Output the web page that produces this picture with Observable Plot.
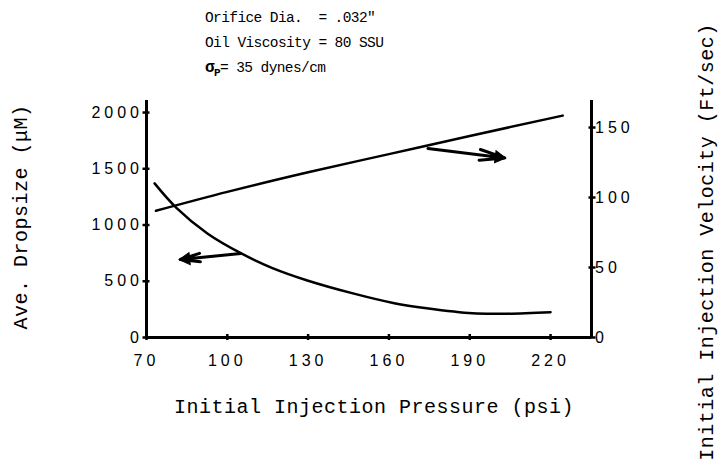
<!DOCTYPE html>
<html>
<head>
<meta charset="utf-8">
<script src="https://cdn.jsdelivr.net/npm/d3@7"></script>
<script src="https://cdn.jsdelivr.net/npm/@observablehq/plot@0.6"></script>
<style>
  html, body { margin: 0; padding: 0; background: #fff; }
  #wrap { position: relative; width: 719px; height: 473px; overflow: hidden; }
  #title { position: absolute; left: 205px; top: 6px; font-family: "Liberation Mono", monospace; font-size: 14.5px; letter-spacing: -0.6px; line-height: 25px; white-space: pre; color: #000; }
  #title b { font-size: 16px; }
  #title b sub { font-size: 11px; }
</style>
</head>
<body>
<div id="wrap">
  <div id="title">Orifice Dia.  = .032"
Oil Viscosity = 80 SSU
<b>σ<sub>P</sub></b>= 35 dynes/cm</div>
</div>
<script>
// ---- data ----
const pressureTicks = [70, 100, 130, 160, 190, 220];
const dropTicks = [0, 500, 1000, 1500, 2000];
const velTicks = [0, 50, 100, 150];

// Ave. dropsize (µM) vs pressure (psi) — left axis
const dropPressure = [73, 81, 92.6, 105, 117, 130, 147, 162, 174, 191, 204, 220];
const dropSize     = [1370, 1155, 925, 750, 615, 505, 390, 305, 260, 215, 212, 225];

// Initial injection velocity (ft/sec) vs pressure (psi) — right axis
const velPressure = [73.5, 100, 130, 160, 190, 224.5];
const velocity    = [90.5, 104, 118, 131, 144, 158.5];

// annotation arrows [fromPressure, fromValue, toPressure, toValue]
const velArrow  = [174.5, 135, 203, 128.3];   // in velocity units
const dropArrow = [105, 747, 82.5, 693];       // in dropsize units

const labelLeft = "Ave. Dropsize (\u03bcM)";
const labelRight = "Initial Injection Velocity (Ft/sec)";
const labelBottom = "Initial Injection Pressure (psi)";

// ---- scales ----
const X_MAX = 235.2, DROP_MAX = 2107, VEL_MAX = 169.3;
const v2d = d3.scaleLinear([0, VEL_MAX], [0, DROP_MAX]);

const dropData = dropPressure.map((p, i) => ({p, v: dropSize[i]}));
const velData = velPressure.map((p, i) => ({p, v: v2d(velocity[i])}));
const arrows = [
  {x1: velArrow[0], y1: v2d(velArrow[1]), x2: velArrow[2], y2: v2d(velArrow[3])},
  {x1: dropArrow[0], y1: dropArrow[1], x2: dropArrow[2], y2: dropArrow[3]}
];

const mono = "Liberation Mono, monospace";
const tickFont = "Liberation Sans, sans-serif";

const chart = Plot.plot({
  width: 719, height: 473,
  marginLeft: 146, marginRight: 128, marginTop: 100, marginBottom: 136,
  x: {domain: [70, X_MAX]},
  y: {domain: [0, DROP_MAX]},
  style: {background: "white", color: "black", fontFamily: tickFont, overflow: "visible"},
  marks: [
    Plot.ruleX([70], {stroke: "black", strokeWidth: 3}),
    Plot.ruleX([X_MAX], {stroke: "black", strokeWidth: 3}),
    Plot.ruleY([0], {stroke: "black", strokeWidth: 3}),
    Plot.axisY(dropTicks, {anchor: "left", tickSize: 7, dx: 3.5, tickPadding: 0, fontSize: 16, strokeWidth: 2.5, tickFormat: d => String(d), label: null}),
    Plot.axisY(velTicks.map(v2d), {anchor: "right", tickSize: 7, dx: -3.5, tickPadding: 0, fontSize: 16, strokeWidth: 2.5, tickFormat: d => String(Math.round(v2d.invert(d))), label: null}),
    Plot.axisX(pressureTicks, {tickSize: 6, dy: -3, tickPadding: 14, fontSize: 16, strokeWidth: 2.5, tickFormat: d => String(d), label: null}),
    Plot.line(dropData, {x: "p", y: "v", curve: "catmull-rom", stroke: "black", strokeWidth: 2.5}),
    Plot.line(velData, {x: "p", y: "v", curve: "monotone-x", stroke: "black", strokeWidth: 2.5}),
    Plot.arrow(arrows, {x1: "x1", y1: "y1", x2: "x2", y2: "y2", headLength: 16, headAngle: 24, stroke: "black", strokeWidth: 3}),
    Plot.dot([arrows[0]], {x: "x2", y: "y2", symbol: "triangle", r: 4.5, rotate: 97, dx: -6, dy: -0.7, fill: "black", stroke: "black", strokeWidth: 1}),
    Plot.dot([arrows[1]], {x: "x2", y: "y2", symbol: "triangle", r: 4.5, rotate: -96, dx: 6, dy: -0.6, fill: "black", stroke: "black", strokeWidth: 1}),
    Plot.text([labelLeft], {frameAnchor: "left", textAnchor: "middle", dx: -126, dy: -2, rotate: -90, fontSize: 20, fontFamily: mono}),
    Plot.text([labelRight], {frameAnchor: "right", textAnchor: "middle", dx: 115, dy: 23, rotate: -90, fontSize: 20, fontFamily: mono}),
    Plot.text([labelBottom], {frameAnchor: "bottom", textAnchor: "middle", dx: 5, dy: 75, fontSize: 20, fontFamily: mono})
  ]
});

const svg = d3.select(chart);
svg.selectAll('[aria-label$="tick label"] text').style("letter-spacing", "4px");
svg.selectAll("text")
  .filter(function() { return [labelLeft, labelRight, labelBottom].includes(this.textContent); })
  .style("letter-spacing", "0.5px");
document.getElementById("wrap").prepend(chart);
</script>
</body>
</html>
